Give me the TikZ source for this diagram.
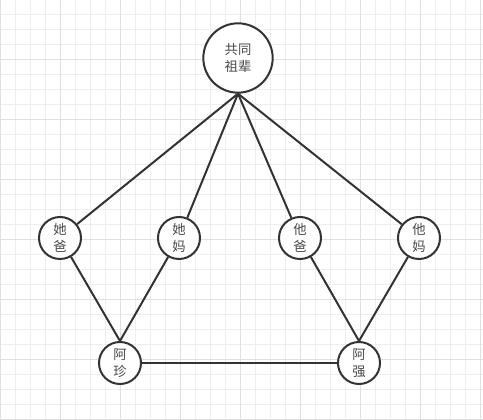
\documentclass[tikz,border=0pt]{standalone}
\usepackage{fontspec}
\newfontfamily\cjk{Noto Sans CJK SC}
\definecolor{ink}{HTML}{333333}
\definecolor{txt}{HTML}{4A4A4A}
\definecolor{gminor}{HTML}{EEEEEE}
\definecolor{gmajor}{HTML}{E0E0E0}
\begin{document}
\begin{tikzpicture}[x=0.75pt,y=-0.75pt,
  person/.style={circle,draw=ink,line width=1.5pt,fill=white,minimum size=31.5pt,inner sep=0pt,
    font=\cjk\fontsize{10}{12.5}\selectfont,text=txt,align=center},
  elder/.style={person,minimum size=52pt},
  link/.style={draw=ink,line width=1.5pt}]
\useasboundingbox (0,0) rectangle (483,420);
\fill[white] (0,0) rectangle (483,420);
\foreach \x in {0,15,...,480} \draw[gminor,line width=0.75pt] (\x,0) -- (\x,420);
\foreach \y in {0,15,...,420} \draw[gminor,line width=0.75pt] (0,\y) -- (483,\y);
\foreach \x in {0,60,...,480} \draw[gmajor,line width=0.75pt] (\x,0) -- (\x,420);
\foreach \y in {0,60,...,420} \draw[gmajor,line width=0.75pt] (0,\y) -- (483,\y);
\node[elder] (top) at (238,58) {共同\\祖辈};
\node[person] (tb) at (60,238) {她\\爸};
\node[person] (tm) at (179,238) {她\\妈};
\node[person] (hb) at (300,238) {他\\爸};
\node[person] (hm) at (419,238) {他\\妈};
\node[person] (az) at (120,363) {阿\\珍};
\node[person] (aq) at (359,363) {阿\\强};
\draw[link] (top.south) -- (tb);
\draw[link] (top.south) -- (tm);
\draw[link] (top.south) -- (hb);
\draw[link] (top.south) -- (hm);
\draw[link] (tb) -- (az.north);
\draw[link] (tm) -- (az.north);
\draw[link] (hb) -- (aq.north);
\draw[link] (hm) -- (aq.north);
\draw[link] (az) -- (aq);
\end{tikzpicture}
\end{document}
